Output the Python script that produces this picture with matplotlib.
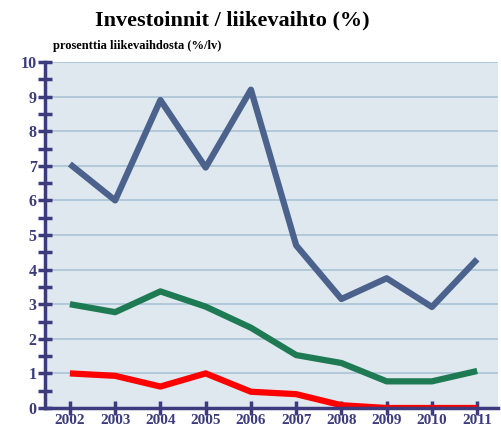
import numpy as np
import matplotlib
matplotlib.use('Agg')
import matplotlib.pyplot as plt
from matplotlib.ticker import MultipleLocator

years = [2002, 2003, 2004, 2005, 2006, 2007, 2008, 2009, 2010, 2011]
blue_vals = [7.05, 6.0, 8.9, 6.95, 9.2, 4.7, 3.15, 3.75, 2.92, 4.3]
green_vals = [3.0, 2.77, 3.37, 2.93, 2.32, 1.53, 1.3, 0.77, 0.77, 1.07]
red_vals = [1.0, 0.93, 0.62, 1.0, 0.47, 0.4, 0.08, 0.0, 0.0, 0.0]

axis_col = '#3b3b7e'

plt.rcParams['font.family'] = 'Liberation Serif'
plt.rcParams['font.weight'] = 'bold'

fig = plt.figure(figsize=(5.02, 4.28), dpi=100)
ax = fig.add_axes([45 / 502, 1 - 408 / 428, 453 / 502, 346 / 428])
ax.set_facecolor('#dfe7ef')

ax.plot(years, blue_vals, color='#4b628c', lw=4.5, solid_capstyle='butt', zorder=3)
ax.plot(years, green_vals, color='#1e7a52', lw=4.5, solid_capstyle='butt', zorder=3)
ax.plot(years, red_vals, color='#ff0000', lw=4.5, solid_capstyle='butt', zorder=3)

ax.set_xlim(2001.45, 2011.46)
ax.set_ylim(0, 10)
ax.set_xticks(years)
ax.yaxis.set_major_locator(MultipleLocator(1))
ax.yaxis.set_minor_locator(MultipleLocator(0.5))
ax.grid(axis='y', color='#a9c3d5', lw=1.2, zorder=1)

for s in ['top', 'right']:
    ax.spines[s].set_visible(False)
for s in ['left', 'bottom']:
    ax.spines[s].set_color(axis_col)
    ax.spines[s].set_linewidth(2.5)
    ax.spines[s].set_zorder(4)

ax.tick_params(axis='both', which='major', direction='inout', length=10, width=2.5,
               color=axis_col, labelcolor=axis_col, labelsize=11.5)
ax.tick_params(axis='y', which='minor', direction='inout', length=10, width=2.5, color=axis_col)
ax.tick_params(axis='x', pad=-1, labelsize=11)
ax.tick_params(axis='y', pad=1)

fig.text(0.463, 0.952, 'Investoinnit / liikevaihto (%)', ha='center', va='center',
         fontsize=16, fontweight='bold', color='black')
fig.text(0.106, 0.893, 'prosenttia liikevaihdosta (%/lv)', ha='left', va='center',
         fontsize=9, fontweight='bold', color='black')

fig.savefig('out.png', dpi=100)
